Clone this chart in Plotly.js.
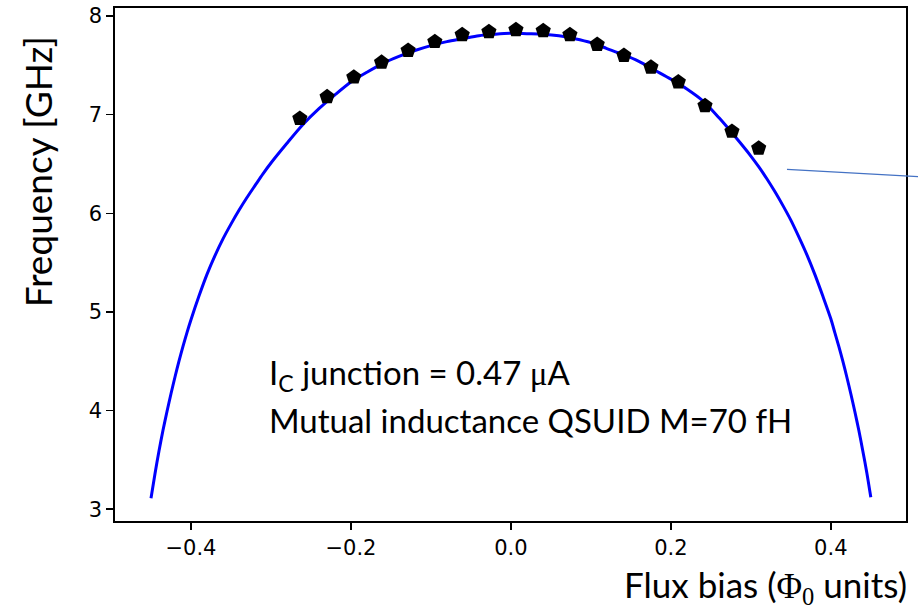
<!DOCTYPE html>
<html><head><meta charset="utf-8">
<script src="https://cdn.plot.ly/plotly-3.0.1.min.js"></script>
<style>html,body{margin:0;padding:0;background:#fff}</style>
</head><body><div id="chart" style="width:918px;height:612px"></div>
<script>
// measured resonance points (black pentagons)
const measuredFlux = [-0.2639,-0.2298,-0.1964,-0.1617,-0.1285,-0.0951,-0.0609,-0.0275,0.0063,0.0404,0.0738,0.1079,0.1413,0.1751,0.2093,0.2427,0.2764,0.3098];
const measuredFreq = [6.96,7.18,7.38,7.53,7.65,7.74,7.81,7.84,7.86,7.85,7.81,7.71,7.60,7.48,7.33,7.09,6.83,6.66];
// fitted model curve (blue line)
const fitFlux = [-0.45,-0.445,-0.44,-0.435,-0.43,-0.425,-0.42,-0.415,-0.41,-0.405,-0.40,-0.39,-0.38,-0.37,-0.36,-0.35,-0.34,-0.33,-0.32,-0.31,-0.30,-0.28,-0.26,-0.24,-0.22,-0.20,-0.18,-0.16,-0.14,-0.12,-0.10,-0.08,-0.06,-0.04,-0.02,0,
  0.02,0.04,0.06,0.08,0.10,0.12,0.14,0.16,0.18,0.20,0.22,0.24,0.26,0.28,0.30,0.31,0.32,0.33,0.34,0.35,0.36,0.37,0.38,0.39,0.40,0.405,0.41,0.415,0.42,0.425,0.43,0.435,0.44,0.445,0.45];
const fitFreq = [3.11,3.36,3.59,3.80,3.99,4.17,4.34,4.50,4.65,4.79,4.92,5.16,5.38,5.57,5.74,5.89,6.03,6.16,6.28,6.40,6.51,6.71,6.90,7.06,7.20,7.33,7.43,7.52,7.59,7.65,7.70,7.74,7.77,7.80,7.815,7.825,
  7.82,7.815,7.80,7.77,7.73,7.67,7.61,7.54,7.45,7.36,7.26,7.14,6.97,6.78,6.58,6.47,6.35,6.22,6.08,5.93,5.76,5.58,5.38,5.16,4.93,4.79,4.65,4.50,4.34,4.17,3.99,3.80,3.59,3.37,3.12];
// ticks
const xTickVals = [-0.4,-0.2,0,0.2,0.4];
const xTickText = ['\u22120.4','\u22120.2','0.0','0.2','0.4'];
const yTickVals = [3,4,5,6,7,8];
const yTickText = ['3','4','5','6','7','8'];
// texts
const xTitle = 'Flux bias (<span style="font-family:\'Liberation Serif\'">\u03A6<sub>0</sub></span> units)';
const yTitle = 'Frequency [GHz]';
const noteLine1 = 'I<sub>C</sub> junction = 0.47 <span style="font-family:\'Liberation Serif\'">\u03BC</span>A';
const noteLine2 = 'Mutual inductance QSUID M=70 fH';

const textFont = 'Lato, "Open Sans", sans-serif';
const tickFont = {family: '"DejaVu Sans", sans-serif', size: 21, color: '#000'};

const traces = [
  {x: fitFlux, y: fitFreq, type: 'scatter', mode: 'lines', line: {color: '#0000ff', width: 3, shape: 'spline', smoothing: 0.8}, hoverinfo: 'skip', showlegend: false},
  {x: measuredFlux, y: measuredFreq, type: 'scatter', mode: 'markers', marker: {symbol: 'pentagon', size: 16, color: '#000'}, showlegend: false}
];

const axisCommon = {showgrid: false, zeroline: false, showline: true, mirror: true, linecolor: '#000', linewidth: 1.8,
  ticks: 'outside', ticklen: 7, tickwidth: 1.5, tickcolor: '#000', tickfont: tickFont};

const layout = {
  width: 918, height: 612,
  margin: {l: 115, r: 12.3, t: 8, b: 91},
  paper_bgcolor: '#fff', plot_bgcolor: '#fff',
  xaxis: Object.assign({}, axisCommon, {range: [-0.495, 0.494], tickvals: xTickVals, ticktext: xTickText}),
  yaxis: Object.assign({}, axisCommon, {range: [2.88, 8.081], tickvals: yTickVals, ticktext: yTickText}),
  showlegend: false,
  shapes: [
    {type: 'line', xref: 'paper', yref: 'paper', x0: 0.8495, y0: 0.6856, x1: 1.0156, y1: 0.6712, line: {color: '#4472c4', width: 1.3}}
  ],
  annotations: [
    {text: noteLine1, xref: 'paper', yref: 'paper', x: 0.1919, y: 0.285, xanchor: 'left', yanchor: 'middle', showarrow: false, font: {family: textFont, size: 33, color: '#000'}},
    {text: noteLine2, xref: 'paper', yref: 'paper', x: 0.1919, y: 0.197, xanchor: 'left', yanchor: 'middle', showarrow: false, font: {family: textFont, size: 33, color: '#000'}},
    {text: xTitle, xref: 'paper', yref: 'paper', x: 1.004, y: -0.128, xanchor: 'right', yanchor: 'middle', showarrow: false, font: {family: textFont, size: 35, color: '#000'}},
    {text: yTitle, xref: 'paper', yref: 'paper', x: -0.0986, y: 0.68, xanchor: 'center', yanchor: 'middle', textangle: -90, showarrow: false, font: {family: textFont, size: 37, color: '#000'}}
  ]
};

Plotly.newPlot('chart', traces, layout, {displayModeBar: false, staticPlot: true});
</script></body></html>
